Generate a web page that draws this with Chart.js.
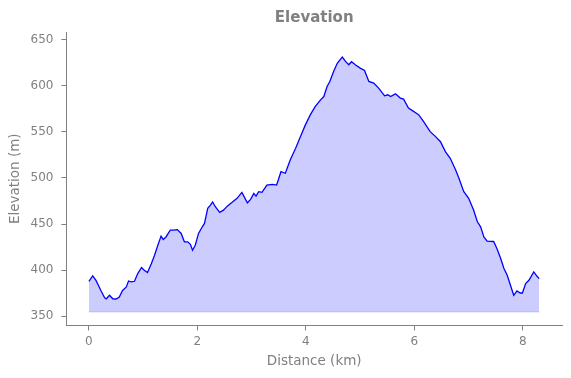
<!DOCTYPE html>
<html>
<head>
<meta charset="utf-8">
<script src="https://cdn.jsdelivr.net/npm/chart.js@4.4.1/dist/chart.umd.min.js"></script>
<style>
  html, body { margin: 0; padding: 0; background: #fff; }
  #wrap { width: 571px; height: 378px; }
</style>
</head>
<body>
<div id="wrap"><canvas id="mycanvas"></canvas></div>
<script>
// distance along the route (km) and elevation (m)
var distance = [0, 0.07, 0.13, 0.19, 0.22, 0.29, 0.32, 0.38, 0.44, 0.50, 0.56, 0.62, 0.69, 0.73, 0.78, 0.84, 0.90, 0.97,
	1.02, 1.08, 1.15, 1.21, 1.27, 1.33, 1.37, 1.42, 1.50, 1.56, 1.63, 1.70, 1.76, 1.82, 1.87, 1.91, 1.96,
	2.02, 2.09, 2.13, 2.19, 2.24, 2.28, 2.33, 2.41, 2.48, 2.55, 2.64, 2.73, 2.82, 2.92, 2.98,
	3.04, 3.08, 3.13, 3.19, 3.28, 3.38, 3.46, 3.54, 3.62, 3.71, 3.81, 3.90, 3.99,
	4.08, 4.17, 4.27, 4.33, 4.39, 4.44, 4.51, 4.58, 4.67, 4.73, 4.79, 4.84, 4.91,
	5.00, 5.08, 5.16, 5.25, 5.34, 5.39, 5.45, 5.51, 5.56, 5.65, 5.74, 5.80, 5.89, 5.99,
	6.08, 6.17, 6.29, 6.39, 6.48, 6.57, 6.66, 6.76, 6.82, 6.91,
	7.00, 7.09, 7.16, 7.22, 7.28, 7.34, 7.46, 7.52, 7.59, 7.65, 7.71, 7.77, 7.83, 7.89, 7.95, 7.99,
	8.05, 8.11, 8.20, 8.26, 8.30];
var elevation = [388, 393.8, 389, 381.8, 378, 370, 369, 372.8, 369, 368.8, 371, 378, 381.8, 388.3, 387.3, 388, 396.3, 402.9,
	400, 397.4, 407, 416.2, 427, 436.9, 433.3, 436, 443.4, 443.4, 444, 439.8, 430.7, 430.7, 428, 421.6, 427,
	439.8, 447, 450.6, 467, 470.5, 474, 468.7, 462.6, 465, 469.4, 473.5, 477.8, 484.3, 473, 476.7,
	483.2, 480.3, 485, 484.3, 492.2, 493, 492.2, 506.7, 505, 519.4, 532, 544.7, 557.4,
	568.2, 577.2, 584.5, 588.1, 599, 604.4, 615.3, 624.4, 630.9, 626.1, 622.5, 625.8, 622.5,
	618.9, 616.3, 604.4, 602.7, 597.2, 593.5, 588.9, 590, 588.1, 591, 586.4, 585.3, 575.5, 571.8,
	568.2, 561, 550.1, 544.7, 539.2, 528.4, 521.2, 508.5, 499.5, 485,
	477.8, 465.1, 452.4, 447, 436.1, 431.4, 431.1, 423.5, 412.6, 401.8, 394.5, 383.7, 372.8, 377.5, 375.3, 375.3,
	385.5, 389.1, 398.1, 393.4, 390.9];
var baseLevel = 354.7;
var xTicks = [0, 2, 4, 6, 8];
var yTicks = [350, 400, 450, 500, 550, 600, 650];

var grey = "#808080";
var titleFont = {family: "DejaVu Sans", size: 15, weight: "bold"};

var points = [];
for (var i in distance) {
	points.push({x: distance[i], y: elevation[i]});
}
var basePoints = [
	{x: distance[0], y: baseLevel},
	{x: distance[distance.length - 1], y: baseLevel}
];

// title centred over the plot area, not the whole canvas
var plotTitle = {
	id: 'plotTitle',
	afterDraw: function(chart) {
		var c = chart.ctx, a = chart.chartArea;
		c.save();
		c.fillStyle = grey;
		c.font = "bold 15px 'DejaVu Sans'";
		c.textAlign = "center";
		c.textBaseline = "middle";
		c.fillText("Elevation", (a.left + a.right) / 2, 18.5);
		c.restore();
	}
};

var ctx = document.getElementById("mycanvas");

var LineGraph = new Chart(ctx, {
	type: 'scatter',
	data: {
		datasets: [
			{
				label: "Elevation",
				showLine: true,
				data: points,
				borderColor: "rgb(0, 0, 255)",
				borderWidth: 1.3,
				backgroundColor: "rgba(0, 0, 255, 0.2)",
				fill: {value: baseLevel},
				pointRadius: 0,
				tension: 0
			},
			{
				label: "base",
				showLine: true,
				data: basePoints,
				borderColor: "rgba(0, 0, 255, 0.15)",
				borderWidth: 1,
				pointRadius: 0,
				fill: false
			}
		]
	},
	plugins: [plotTitle],
	options: {
		responsive: true,
		maintainAspectRatio: false,
		animation: false,
		layout: {padding: {left: 9, right: 9, top: 0, bottom: 8}},
		plugins: {
			legend: {display: false},
			tooltip: {enabled: false},
			title: {
				display: true,
				text: "Elevation",
				color: "rgba(0,0,0,0)",
				font: titleFont,
				padding: {top: 9, bottom: 5}
			}
		},
		scales: {
			x: {
				type: 'linear',
				min: -0.415,
				max: 8.72,
				afterBuildTicks: function(scale) {
					scale.ticks = xTicks.map(function(v){ return {value: v}; });
				},
				grid: {drawOnChartArea: false, drawTicks: true, tickLength: 5, color: grey},
				border: {color: grey},
				ticks: {color: grey, font: {family: "DejaVu Sans", size: 12}, padding: 4, maxRotation: 0},
				title: {display: true, text: "Distance (km)", color: grey,
					font: {family: "DejaVu Sans", size: 13.5}, padding: {top: 1, bottom: 0}}
			},
			y: {
				min: 340.2,
				max: 658,
				afterBuildTicks: function(scale) {
					scale.ticks = yTicks.map(function(v){ return {value: v}; });
				},
				grid: {drawOnChartArea: false, drawTicks: true, tickLength: 5, color: grey},
				border: {color: grey},
				ticks: {color: grey, font: {family: "DejaVu Sans", size: 12}, padding: 8},
				title: {display: true, text: "Elevation (m)", color: grey,
					font: {family: "DejaVu Sans", size: 13.5, lineHeight: 1}, padding: {top: 0, bottom: 0}}
			}
		}
	}
});
</script>
</body>
</html>
